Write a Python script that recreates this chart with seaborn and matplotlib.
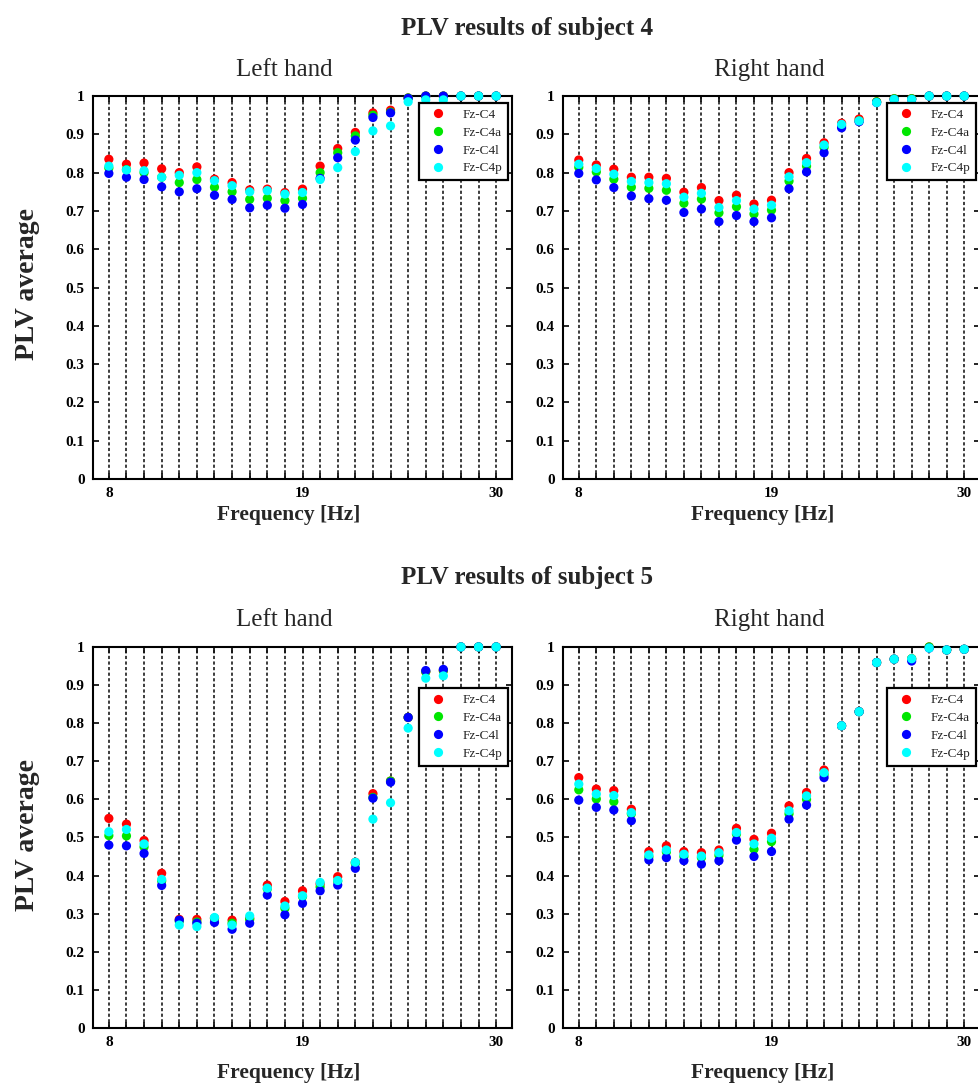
import pandas as pd
import matplotlib.pyplot as plt
from matplotlib.ticker import FixedLocator
import seaborn as sns

FREQS = [8, 9, 10, 11, 12, 13, 14, 15, 16, 17, 18, 19, 20, 21, 22, 23, 24, 25, 26, 27, 28, 29, 30]
X_TICKS = [8, 19, 30]
Y_TICKS = [0, 0.1, 0.2, 0.3, 0.4, 0.5, 0.6, 0.7, 0.8, 0.9, 1.0]
Y_TICK_LABELS = ['0', '0.1', '0.2', '0.3', '0.4', '0.5', '0.6', '0.7', '0.8', '0.9', '1']
CHANNELS = ['Fz-C4', 'Fz-C4a', 'Fz-C4l', 'Fz-C4p']
PALETTE = {'Fz-C4': '#ff0000', 'Fz-C4a': '#00e600', 'Fz-C4l': '#0000ff', 'Fz-C4p': '#00ffff'}

# subject 4, left hand
S4L_C4  = [.835, .822, .825, .810, .800, .815, .783, .774, .755, .757, .748, .757, .817, .863, .905, .956, .963, .995, 1.0, 1.0, 1.0, 1.0, 1.0]
S4L_C4A = [.812, .808, .800, .788, .774, .782, .762, .750, .730, .733, .727, .733, .800, .852, .896, .950, .958, .995, 1.0, 1.0, 1.0, 1.0, 1.0]
S4L_C4L = [.798, .788, .782, .763, .750, .758, .741, .730, .708, .715, .707, .717, .785, .839, .885, .944, .956, .994, 1.0, 1.0, 1.0, 1.0, 1.0]
S4L_C4P = [.817, .807, .805, .788, .793, .800, .779, .766, .750, .753, .744, .748, .782, .813, .855, .909, .922, .985, .99, .99, 1.0, 1.0, 1.0]

# subject 4, right hand
S4R_C4  = [.833, .820, .809, .788, .788, .785, .749, .761, .727, .741, .718, .728, .800, .837, .878, .929, .940, .985, .993, .993, 1.0, 1.0, 1.0]
S4R_C4A = [.814, .802, .783, .762, .759, .754, .720, .731, .695, .711, .692, .702, .778, .817, .866, .922, .935, .985, .993, .993, 1.0, 1.0, 1.0]
S4R_C4L = [.798, .781, .761, .739, .732, .728, .696, .705, .672, .688, .672, .682, .758, .802, .852, .917, .933, .983, .991, .991, 1.0, 1.0, 1.0]
S4R_C4P = [.822, .811, .796, .777, .774, .771, .736, .746, .709, .727, .705, .715, .789, .826, .872, .926, .935, .983, .991, .991, 1.0, 1.0, 1.0]

# subject 5, left hand
S5L_C4  = [.550, .535, .492, .406, .285, .285, .288, .283, .288, .375, .332, .360, .378, .397, .435, .615, .648, .815, .935, .938, 1.0, 1.0, 1.0]
S5L_C4A = [.505, .504, .475, .386, .280, .278, .288, .275, .285, .365, .314, .345, .370, .385, .432, .605, .648, .815, .935, .938, 1.0, 1.0, 1.0]
S5L_C4L = [.480, .478, .458, .374, .283, .275, .277, .259, .275, .349, .297, .327, .360, .375, .419, .603, .645, .815, .938, .941, 1.0, 1.0, 1.0]
S5L_C4P = [.515, .521, .483, .390, .270, .266, .290, .270, .294, .367, .320, .347, .382, .387, .435, .548, .591, .787, .918, .924, 1.0, 1.0, 1.0]

# subject 5, right hand
S5R_C4  = [.657, .627, .623, .574, .463, .478, .463, .460, .467, .524, .495, .511, .583, .618, .677, .793, .830, .959, .968, .969, 1.0, .992, .994]
S5R_C4A = [.625, .601, .594, .562, .449, .462, .450, .447, .453, .509, .469, .489, .562, .600, .665, .793, .830, .959, .968, .969, 1.0, .992, .994]
S5R_C4L = [.598, .579, .572, .544, .441, .447, .439, .430, .439, .493, .450, .463, .548, .585, .657, .793, .830, .959, .968, .963, .997, .992, .994]
S5R_C4P = [.640, .614, .610, .565, .454, .467, .456, .451, .460, .513, .483, .498, .570, .609, .670, .793, .830, .959, .968, .969, .997, .992, .994]

sns.set_style('ticks')
plt.rcParams['font.family'] = ['Liberation Serif', 'DejaVu Serif']
plt.rcParams['axes.edgecolor'] = 'black'
plt.rcParams['xtick.color'] = 'black'
plt.rcParams['ytick.color'] = 'black'


def to_long(series):
    frames = []
    for ch, vals in zip(CHANNELS, series):
        frames.append(pd.DataFrame({'freq': FREQS, 'plv': vals, 'channel': ch}))
    return pd.concat(frames, ignore_index=True)


def draw_panel(ax, series, legend_y):
    for f in FREQS:
        ax.axvline(f, color='#111111', linestyle=(0, (2.0, 1.5)), linewidth=1.15, zorder=1)
    df = to_long(series)
    sns.scatterplot(data=df, x='freq', y='plv', hue='channel', hue_order=CHANNELS,
                    palette=PALETTE, s=44, linewidth=0, ax=ax, zorder=3, clip_on=False)
    ax.set_xlim(7.1, 30.9)
    ax.set_ylim(0, 1)
    ax.set_xticks(X_TICKS)
    ax.set_xticklabels([str(x) for x in X_TICKS])
    ax.xaxis.set_minor_locator(FixedLocator(FREQS))
    ax.set_yticks(Y_TICKS)
    ax.set_yticklabels(Y_TICK_LABELS)
    ax.tick_params(which='both', direction='in', top=True, right=True,
                   length=4, width=1.2, labelsize=11, pad=6)
    for lab in ax.get_xticklabels() + ax.get_yticklabels():
        lab.set_fontweight('bold')
    for sp in ax.spines.values():
        sp.set_linewidth(1.5)
        sp.set_color('black')
    ax.set_xlabel('')
    ax.set_ylabel('')
    sns.move_legend(ax, 'upper right', bbox_to_anchor=(0.99, legend_y), title=None,
                    fontsize=9.5, fancybox=False, edgecolor='black', framealpha=1,
                    borderaxespad=0, labelspacing=0.42, borderpad=0.45)
    ax.get_legend().get_frame().set_linewidth(1.6)


fig = plt.figure(figsize=(9.79, 10.84), dpi=100)
ax_tl = fig.add_axes([0.0950, 0.5581, 0.4280, 0.3533])
ax_tr = fig.add_axes([0.5751, 0.5581, 0.4259, 0.3533])
ax_bl = fig.add_axes([0.0950, 0.0517, 0.4280, 0.3515])
ax_br = fig.add_axes([0.5751, 0.0517, 0.4259, 0.3515])

draw_panel(ax_tl, [S4L_C4, S4L_C4A, S4L_C4L, S4L_C4P], 0.982)
draw_panel(ax_tr, [S4R_C4, S4R_C4A, S4R_C4L, S4R_C4P], 0.982)
draw_panel(ax_bl, [S5L_C4, S5L_C4A, S5L_C4L, S5L_C4P], 0.892)
draw_panel(ax_br, [S5R_C4, S5R_C4A, S5R_C4L, S5R_C4P], 0.892)

fig.text(0.538, 0.974, 'PLV results of subject 4', ha='center', va='center', fontsize=18, fontweight='bold')
fig.text(0.538, 0.4668, 'PLV results of subject 5', ha='center', va='center', fontsize=18, fontweight='bold')
for yy in [0.9354, 0.428]:
    fig.text(0.290, yy, 'Left hand', ha='center', va='center', fontsize=18)
    fig.text(0.7855, yy, 'Right hand', ha='center', va='center', fontsize=18)
for yy in [0.525, 0.0101]:
    fig.text(0.295, yy, 'Frequency [Hz]', ha='center', va='center', fontsize=15.5, fontweight='bold')
    fig.text(0.779, yy, 'Frequency [Hz]', ha='center', va='center', fontsize=15.5, fontweight='bold')
fig.text(0.0286, 0.738, 'PLV average', ha='center', va='center', rotation=90, fontsize=20, fontweight='bold')
fig.text(0.0286, 0.230, 'PLV average', ha='center', va='center', rotation=90, fontsize=20, fontweight='bold')

fig.savefig('out.png', dpi=100)
plt.close()
